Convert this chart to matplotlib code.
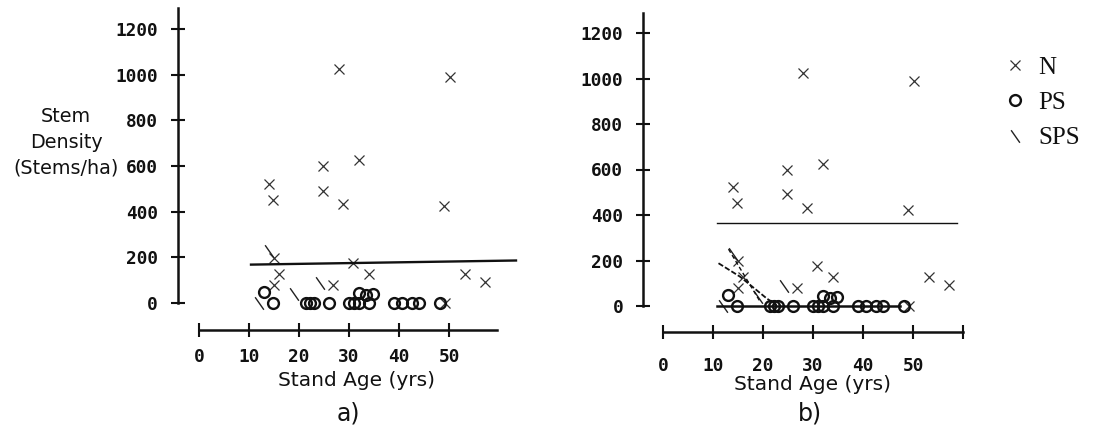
import matplotlib
matplotlib.use("Agg")
import matplotlib.pyplot as plt
from matplotlib.path import Path

# ---------------- data ----------------
n_age = [14.0, 14.7, 24.7, 24.7, 28.7, 31.9, 27.9, 50.1, 49.0, 14.9, 16.0,
         14.9, 26.7, 34.0, 30.7, 53.1, 57.1, 49.2]
n_density = [521, 451, 600, 491, 432, 626, 1022, 988, 424, 196, 126,
             79, 79, 127, 176, 126, 93, 0]

ps_age = [12.9, 14.7, 21.4, 22.1, 22.9, 26.0, 30.0, 31.0, 32.0, 33.9,
          31.9, 33.3, 34.8, 38.9, 40.5, 42.5, 44.0, 48.2]
ps_density = [48, 0, 0, 0, 0, 0, 0, 0, 0, 0,
              42, 35, 38, 0, 0, 0, 0, 0]

sps_age = [12.0, 14.0, 19.0, 24.2]
sps_density = [0, 228, 40, 86]

# panel a: overall fit line
a_fit_age = [10.4, 63.4]
a_fit_density = [168, 186]

# panel b: group fit lines
b_n_age = [10.8, 58.7]
b_n_density = [364, 364]
b_ps_age = [10.7, 47.4]
b_ps_density = [0, 0]
b_sps_age = [11.1, 15.4, 18.7, 20.7, 22.7]
b_sps_density = [188, 129, 70, 34, 4]
b_sps2_age = [13.1, 19.4]
b_sps2_density = [250, 20]

y_ticks = [0, 200, 400, 600, 800, 1000, 1200]
x_ticks_a = [0, 10, 20, 30, 40, 50]
x_ticks_b = [0, 10, 20, 30, 40, 50, 60]
x_ticklabels_b = ["0", "10", "20", "30", "40", "50", ""]

legend_labels = ["N", "PS", "SPS"]

# ---------------- styling ----------------
W, H = 1098, 432
INK = "#111111"
fig = plt.figure(figsize=(W / 100, H / 100), dpi=100)

sps_marker = Path([(-0.7, 1.0), (0.7, -1.0)], [Path.MOVETO, Path.LINETO])
tick_font = dict(family="DejaVu Sans Mono", weight="bold", size=12.8)


def px_axes(x0_px, y0_px, px_per_10yr, px_per_200):
    """axes whose data (0,0) lands at pixel (x0_px, y0_px) from top-left"""
    xlo, xhi, ylo, yhi = -10, 70, -200, 1300
    left = x0_px + xlo / 10 * px_per_10yr
    width = (xhi - xlo) / 10 * px_per_10yr
    bottom_px = y0_px - ylo / 200 * px_per_200
    height = (yhi - ylo) / 200 * px_per_200
    ax = fig.add_axes([left / W, (H - bottom_px) / H, width / W, height / H])
    ax.set_xlim(xlo, xhi)
    ax.set_ylim(ylo, yhi)
    ax.patch.set_visible(False)
    return ax


def style_axes(ax, yspine_x, xspine_y, xbound_hi, xpad):
    for s in ("top", "right"):
        ax.spines[s].set_visible(False)
    ax.spines["left"].set_position(("data", yspine_x))
    ax.spines["bottom"].set_position(("data", xspine_y))
    ax.spines["left"].set_bounds(0, 1290)
    ax.spines["bottom"].set_bounds(0, xbound_hi)
    for s in ("left", "bottom"):
        ax.spines[s].set_linewidth(1.8)
        ax.spines[s].set_color(INK)
    ax.set_yticks(y_ticks)
    ax.set_yticklabels([str(v) for v in y_ticks], fontdict=tick_font)
    ax.tick_params(axis="both", direction="inout", length=10, width=1.5,
                   color=INK, labelcolor=INK)
    ax.tick_params(axis="y", pad=9.4)
    ax.tick_params(axis="x", pad=xpad)


def draw_points(ax):
    hn, = ax.plot(n_age, n_density, linestyle="none", marker="x",
                  markersize=6.5, markeredgewidth=0.9, color="#333333")
    hp, = ax.plot(ps_age, ps_density, linestyle="none", marker="o",
                  markersize=7.8, markeredgewidth=1.7, markerfacecolor="none",
                  color=INK)
    hs, = ax.plot(sps_age, sps_density, linestyle="none", marker=sps_marker,
                  markersize=9, markeredgewidth=1.0, color="#222222")
    return hn, hp, hs


# ---------------- panel a ----------------
axa = px_axes(199, 303, 50, 45.7)
style_axes(axa, -4.2, -118, 59.6, 7.9)
axa.set_xticks(x_ticks_a)
axa.set_xticklabels([str(v) for v in x_ticks_a], fontdict=tick_font)
handles = draw_points(axa)
axa.plot(a_fit_age, a_fit_density, color=INK, linewidth=1.7)

# ---------------- panel b ----------------
axb = px_axes(663, 306, 50, 45.5)
style_axes(axb, -4.0, -114, 60, 13)
axb.set_xticks(x_ticks_b)
axb.set_xticklabels(x_ticklabels_b, fontdict=tick_font)
draw_points(axb)
axb.plot(b_n_age, b_n_density, color=INK, linewidth=1.0)
axb.plot(b_ps_age, b_ps_density, color=INK, linewidth=1.8)
axb.plot(b_sps_age, b_sps_density, color=INK, linewidth=1.3,
         linestyle=(0, (3, 1.2)))
axb.plot(b_sps2_age, b_sps2_density, color=INK, linewidth=1.0,
         linestyle=(0, (3, 2)))

# ---------------- texts ----------------
label_font = dict(family="DejaVu Sans", size=14.5, color=INK)
fig.text(356.7 / W, 1 - 381 / H, "Stand Age (yrs)", ha="center", va="center",
         **label_font)
fig.text(813 / W, 1 - 384 / H, "Stand Age (yrs)", ha="center", va="center",
         **label_font)
fig.text(66 / W, 1 - 142 / H, "Stem\nDensity\n(Stems/ha)", ha="center",
         va="center", multialignment="center", linespacing=1.45,
         family="DejaVu Sans", size=13.8, color=INK)
fig.text(348 / W, 1 - 414 / H, "a)", ha="center", va="center",
         family="DejaVu Sans", size=17, color=INK)
fig.text(810 / W, 1 - 414 / H, "b)", ha="center", va="center",
         family="DejaVu Sans", size=17, color=INK)

fig.legend(handles, legend_labels, loc="upper left",
           bbox_to_anchor=(992 / W, 1 - 46 / H), frameon=False,
           prop=dict(family="Liberation Serif", size=18),
           handlelength=1.0, handletextpad=0.45, labelspacing=0.52,
           borderaxespad=0, labelcolor=INK)

fig.savefig("out.png", dpi=100)
